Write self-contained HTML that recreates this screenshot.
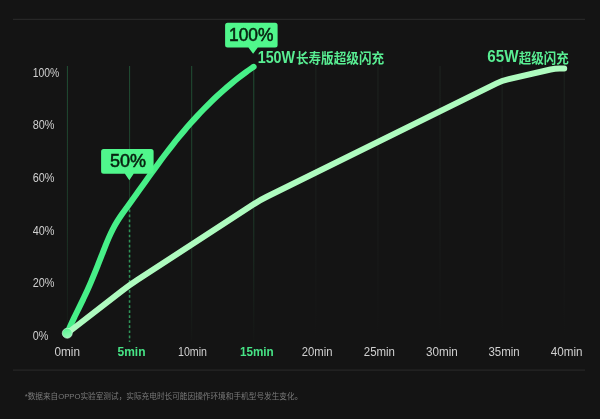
<!DOCTYPE html>
<html><head><meta charset="utf-8"><title>chart</title>
<style>html,body{margin:0;padding:0;background:#141414;}body{width:600px;height:419px;overflow:hidden;position:relative;font-family:"Liberation Sans",sans-serif;}</style>
</head><body>
<svg width="600" height="419" viewBox="0 0 600 419" style="position:absolute;left:0;top:0;display:block;will-change:transform">
<defs>
<linearGradient id="gg" x1="0" y1="0" x2="0" y2="1"><stop offset="0" stop-color="#1f4a31"/><stop offset="0.55" stop-color="#1c3526"/><stop offset="1" stop-color="#151615"/></linearGradient>
<linearGradient id="gy" x1="0" y1="0" x2="0" y2="1"><stop offset="0" stop-color="#1c221e"/><stop offset="0.6" stop-color="#191b1a"/><stop offset="1" stop-color="#141414"/></linearGradient>
<linearGradient id="dot" x1="0.3" y1="0" x2="0.6" y2="1"><stop offset="0" stop-color="#55f590"/><stop offset="1" stop-color="#9af9b8"/></linearGradient>
</defs>
<rect width="600" height="419" fill="#141414"/>
<rect x="13" y="18.7" width="572" height="1.3" fill="#272727"/>
<rect x="13" y="369.5" width="572" height="1.2" fill="#272727"/>
<rect x="66.90" y="66" width="1.1" height="275" fill="url(#gg)"/>
<rect x="129.00" y="66" width="1.1" height="275" fill="url(#gg)"/>
<rect x="191.10" y="66" width="1.1" height="275" fill="url(#gg)"/>
<rect x="253.20" y="66" width="1.1" height="275" fill="url(#gg)"/>
<rect x="315.30" y="66" width="1.1" height="275" fill="url(#gy)"/>
<rect x="377.40" y="66" width="1.1" height="275" fill="url(#gy)"/>
<rect x="439.50" y="66" width="1.1" height="275" fill="url(#gy)"/>
<rect x="501.60" y="66" width="1.1" height="275" fill="url(#gy)"/>
<rect x="563.70" y="66" width="1.1" height="275" fill="url(#gy)"/>
<rect x="128.05" y="204" width="3" height="140" fill="#141414"/>
<line x1="129.55" y1="204.4" x2="129.55" y2="342" stroke="#2e9458" stroke-width="1.55" stroke-dasharray="2.7 2.34"/>
<path d="M67.25 333.25 C67.87 331.81 69.69 327.45 70.98 324.58 C72.26 321.72 73.62 318.88 74.97 316.04 C76.33 313.20 77.73 310.39 79.11 307.56 C80.49 304.73 81.89 301.92 83.25 299.08 C84.60 296.25 85.96 293.42 87.26 290.56 C88.56 287.70 89.82 284.82 91.05 281.93 C92.29 279.05 93.48 276.14 94.66 273.23 C95.85 270.32 97.00 267.39 98.15 264.47 C99.31 261.54 100.44 258.60 101.59 255.67 C102.74 252.73 103.86 249.78 105.04 246.86 C106.21 243.93 107.37 241.00 108.63 238.12 C109.90 235.24 111.18 232.37 112.62 229.58 C114.05 226.80 115.59 224.07 117.22 221.41 C118.86 218.74 120.65 216.16 122.44 213.58 C124.23 211.00 126.11 208.47 127.95 205.92 C129.79 203.37 131.64 200.83 133.47 198.28 C135.31 195.72 137.13 193.17 138.96 190.61 C140.78 188.05 142.60 185.49 144.42 182.94 C146.25 180.38 148.07 177.83 149.90 175.28 C151.74 172.73 153.57 170.18 155.42 167.65 C157.27 165.11 159.12 162.58 161.00 160.06 C162.87 157.54 164.75 155.03 166.66 152.53 C168.56 150.04 170.48 147.55 172.43 145.08 C174.38 142.61 176.34 140.16 178.34 137.72 C180.33 135.29 182.34 132.87 184.38 130.47 C186.42 128.07 188.48 125.69 190.57 123.34 C192.66 120.98 194.77 118.65 196.91 116.34 C199.04 114.03 201.21 111.75 203.40 109.49 C205.59 107.23 207.81 105.00 210.05 102.80 C212.30 100.60 214.57 98.42 216.87 96.28 C219.17 94.14 221.50 92.03 223.86 89.96 C226.21 87.88 228.60 85.84 231.02 83.83 C233.43 81.82 235.88 79.85 238.36 77.92 C240.84 75.99 243.34 74.09 245.88 72.24 C248.42 70.39 252.31 67.71 253.60 66.80" fill="none" stroke="#47f088" stroke-width="6" stroke-linecap="round" stroke-linejoin="round"/>
<path d="M67.25 333.25 L121.30 291.33 Q129.20 285.20 137.58 279.75 L254.63 203.62 Q260.50 199.80 266.78 196.70 L496.62 83.35 Q502.00 80.70 507.85 79.35 L550.52 69.53 Q555.00 68.50 559.60 68.50 L564.20 68.50" fill="none" stroke="#aefbbf" stroke-width="6" stroke-linecap="round" stroke-linejoin="round"/>
<circle cx="67.25" cy="333.25" r="5" fill="url(#dot)" stroke="#d9fce5" stroke-width="0.6"/>
<path d="M103.60 148.90 h47.50 a2.5 2.5 0 0 1 2.5 2.5 v19.80 a2.5 2.5 0 0 1 -2.5 2.5 H133.70 L129.30 180.20 L124.90 173.70 H103.60 a2.5 2.5 0 0 1 -2.5 -2.5 v-19.80 a2.5 2.5 0 0 1 2.5 -2.5 z" fill="#50f78c"/>
<path d="M227.60 22.70 h47.50 a2.5 2.5 0 0 1 2.5 2.5 v19.80 a2.5 2.5 0 0 1 -2.5 2.5 H257.80 L253.10 53.80 L248.40 47.50 H227.60 a2.5 2.5 0 0 1 -2.5 -2.5 v-19.80 a2.5 2.5 0 0 1 2.5 -2.5 z" fill="#50f78c"/>
<text x="109.9" y="167.3" textLength="36" lengthAdjust="spacingAndGlyphs" style="font-family:'Liberation Sans',sans-serif;font-size:18.7px" fill="#07210f" stroke="#07210f" stroke-width="0.55">50%</text>
<text x="229" y="41" textLength="44.4" lengthAdjust="spacingAndGlyphs" style="font-family:'Liberation Sans',sans-serif;font-size:18.7px" fill="#07210f" stroke="#07210f" stroke-width="0.55">100%</text>
<text x="257.7" y="63.1" textLength="37.4" lengthAdjust="spacingAndGlyphs" style="font-family:'Liberation Sans',sans-serif;font-size:15.7px;font-weight:bold" fill="#59ee93">150W</text>
<text x="295.9" y="63" textLength="88.3" lengthAdjust="spacingAndGlyphs" style="font-family:'Liberation Sans','Noto Sans CJK SC',sans-serif;font-size:13.3px;font-weight:bold" fill="#59ee93">长寿版超级闪充</text>
<text x="487.3" y="62.4" textLength="31.2" lengthAdjust="spacingAndGlyphs" style="font-family:'Liberation Sans',sans-serif;font-size:15.7px;font-weight:bold" fill="#59ee93">65W</text>
<text x="518.7" y="62.7" textLength="50" lengthAdjust="spacingAndGlyphs" style="font-family:'Liberation Sans','Noto Sans CJK SC',sans-serif;font-size:13.1px;font-weight:bold" fill="#59ee93">超级闪充</text>
<text x="32.7" y="76.8" textLength="26.6" lengthAdjust="spacingAndGlyphs" style="font-family:'Liberation Sans',sans-serif;font-size:12px" fill="#d0d0d0">100%</text>
<text x="32.7" y="129.4" textLength="21.8" lengthAdjust="spacingAndGlyphs" style="font-family:'Liberation Sans',sans-serif;font-size:12px" fill="#d0d0d0">80%</text>
<text x="32.7" y="182.1" textLength="21.8" lengthAdjust="spacingAndGlyphs" style="font-family:'Liberation Sans',sans-serif;font-size:12px" fill="#d0d0d0">60%</text>
<text x="32.7" y="234.7" textLength="21.8" lengthAdjust="spacingAndGlyphs" style="font-family:'Liberation Sans',sans-serif;font-size:12px" fill="#d0d0d0">40%</text>
<text x="32.7" y="287.4" textLength="21.8" lengthAdjust="spacingAndGlyphs" style="font-family:'Liberation Sans',sans-serif;font-size:12px" fill="#d0d0d0">20%</text>
<text x="32.7" y="340.0" textLength="15.6" lengthAdjust="spacingAndGlyphs" style="font-family:'Liberation Sans',sans-serif;font-size:12px" fill="#d0d0d0">0%</text>
<text x="54.50" y="355.8" textLength="25.50" lengthAdjust="spacingAndGlyphs" style="font-family:'Liberation Sans',sans-serif;font-size:12px" fill="#d0d0d0">0min</text>
<text x="117.50" y="355.8" textLength="28.00" lengthAdjust="spacingAndGlyphs" style="font-family:'Liberation Sans',sans-serif;font-size:12px;font-weight:bold" fill="#47e486">5min</text>
<text x="178.00" y="355.8" textLength="29.00" lengthAdjust="spacingAndGlyphs" style="font-family:'Liberation Sans',sans-serif;font-size:12px" fill="#d0d0d0">10min</text>
<text x="240.00" y="355.8" textLength="33.75" lengthAdjust="spacingAndGlyphs" style="font-family:'Liberation Sans',sans-serif;font-size:12px;font-weight:bold" fill="#47e486">15min</text>
<text x="301.75" y="355.8" textLength="30.75" lengthAdjust="spacingAndGlyphs" style="font-family:'Liberation Sans',sans-serif;font-size:12px" fill="#d0d0d0">20min</text>
<text x="363.75" y="355.8" textLength="31.25" lengthAdjust="spacingAndGlyphs" style="font-family:'Liberation Sans',sans-serif;font-size:12px" fill="#d0d0d0">25min</text>
<text x="426.00" y="355.8" textLength="31.80" lengthAdjust="spacingAndGlyphs" style="font-family:'Liberation Sans',sans-serif;font-size:12px" fill="#d0d0d0">30min</text>
<text x="488.40" y="355.8" textLength="31.20" lengthAdjust="spacingAndGlyphs" style="font-family:'Liberation Sans',sans-serif;font-size:12px" fill="#d0d0d0">35min</text>
<text x="550.80" y="355.8" textLength="31.80" lengthAdjust="spacingAndGlyphs" style="font-family:'Liberation Sans',sans-serif;font-size:12px" fill="#d0d0d0">40min</text>
<text id="foot" x="24.7" y="398.7" textLength="277.6" lengthAdjust="spacingAndGlyphs" style="font-family:'Liberation Sans','Noto Sans CJK SC',sans-serif;font-size:7.8px" fill="#7b7b7b">*数据来自OPPO实验室测试，实际充电时长可能因操作环境和手机型号发生变化。</text>
</svg>
</body></html>
